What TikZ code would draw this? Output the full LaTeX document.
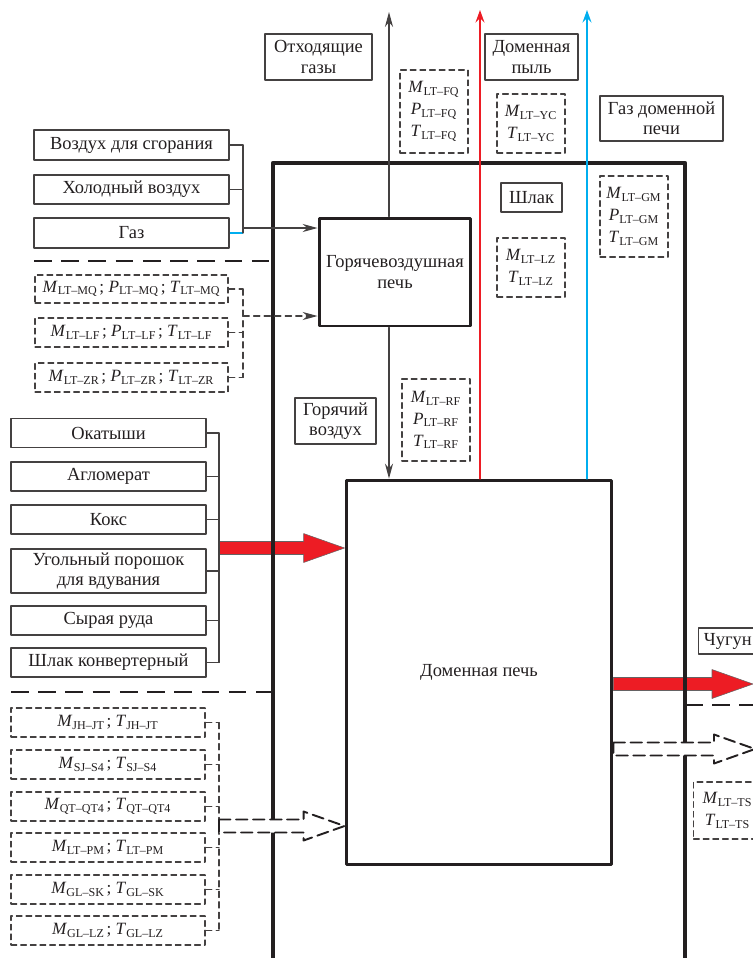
\documentclass[tikz,border=0pt]{standalone}
\usepackage{fontspec}
\setmainfont{Liberation Serif}
\usetikzlibrary{arrows.meta,calc}
\definecolor{furnred}{RGB}{237,28,36}
\definecolor{gasblue}{RGB}{0,174,239}
\definecolor{ink}{RGB}{35,31,32}
\newcommand{\pv}[2]{\textit{#1}\textsubscript{#2}}
\newcommand{\fatarrow}[3]{%
  \draw[#1] ($(#2)+(0,-6.5)$) -- ($(#3)+(-41,-6.5)$) -- ($(#3)+(-41,-14.5)$) -- (#3)
    -- ($(#3)+(-41,14.5)$) -- ($(#3)+(-41,6.5)$) -- ($(#2)+(0,6.5)$) -- cycle;}

\begin{document}
\begin{tikzpicture}[x=0.02cm,y=-0.02cm,line cap=round,line join=round,
  font=\fontsize{10.5}{11.5}\selectfont,text=ink,
  box/.style={draw=ink!85,line width=0.6pt,align=center,inner sep=0pt},
  pbox/.style={draw=ink!85,line width=0.6pt,dash pattern=on 3.3pt off 2.2pt,align=center,
    inner sep=0pt,font=\fontsize{9.8}{12.5}\selectfont},
  oven/.style={draw=ink,line width=1.7pt,align=center},
  wire/.style={draw=ink!85,line width=0.6pt},
  dwire/.style={wire,dash pattern=on 3.6pt off 2.4pt},
  arr/.style={-{Stealth[length=8.5pt,width=4.6pt]}},
  flow/.style={line width=1.4pt,-{Stealth[length=7pt,width=5pt]}},
  sep/.style={draw=ink,line width=1.1pt,dash pattern=on 10pt off 5.5pt,line cap=butt},
  wall/.style={draw=ink,line width=2.6pt,line cap=butt},
  solidarrow/.style={fill=furnred,draw=ink!70,line width=0.3pt},
  hollowarrow/.style={fill=white,draw=ink,line width=1.1pt,dash pattern=on 6.5pt off 3.2pt}]
  \useasboundingbox (0,0) rectangle (753,958);

  \node[box,minimum width=2.14cm,minimum height=0.92cm] (offgas) at (318.5,57) {Отходящие\\газы};
  \node[box,minimum width=1.86cm,minimum height=0.92cm] (dust) at (531.5,57) {Доменная\\пыль};
  \node[box,minimum width=2.46cm,minimum height=0.9cm] (bfgas) at (661.5,118.5) {Газ доменной\\печи};
  \node[pbox,minimum width=1.36cm,minimum height=1.66cm] (pFQ) at (434,111.5) {\pv{M}{LT–FQ}\\\pv{P}{LT–FQ}\\\pv{T}{LT–FQ}};
  \node[pbox,minimum width=1.36cm,minimum height=1.18cm] (pYC) at (531,123.5) {\pv{M}{LT–YC}\\\pv{T}{LT–YC}};
  \node[box,minimum width=1.22cm,minimum height=0.58cm] (slag) at (531.5,197.5) {Шлак};
  \node[pbox,minimum width=1.36cm,minimum height=1.18cm] (pLZ) at (531,267.5) {\pv{M}{LT–LZ}\\\pv{T}{LT–LZ}};
  \node[pbox,minimum width=1.36cm,minimum height=1.62cm] (pGM) at (634,216.5) {\pv{M}{LT–GM}\\\pv{P}{LT–GM}\\\pv{T}{LT–GM}};

  \node[box,minimum width=3.9cm,minimum height=0.6cm] (combair) at (131.5,145) {Воздух для сгорания};
  \node[box,minimum width=3.9cm,minimum height=0.58cm] (coldair) at (131.5,189.5) {Холодный воздух};
  \node[box,minimum width=3.9cm,minimum height=0.6cm] (gas) at (131.5,233) {Газ};
  \node[pbox,minimum width=3.86cm,minimum height=0.56cm] (pMQ) at (131.5,289) {\pv{M}{LT–MQ}\kern1pt; \pv{P}{LT–MQ}\kern1pt; \pv{T}{LT–MQ}};
  \node[pbox,minimum width=3.86cm,minimum height=0.58cm] (pLF) at (131.5,332.5) {\pv{M}{LT–LF}\kern1pt; \pv{P}{LT–LF}\kern1pt; \pv{T}{LT–LF}};
  \node[pbox,minimum width=3.86cm,minimum height=0.58cm] (pZR) at (131.5,377.5) {\pv{M}{LT–ZR}\kern1pt; \pv{P}{LT–ZR}\kern1pt; \pv{T}{LT–ZR}};

  \node[oven,minimum width=3.04cm,minimum height=2.16cm] (stove) at (395,272) {Горячевоздушная\\печь};
  \node[box,minimum width=1.62cm,minimum height=0.92cm] (hotair) at (335.5,421) {Горячий\\воздух};
  \node[pbox,minimum width=1.36cm,minimum height=1.64cm] (pRF) at (436,420) {\pv{M}{LT–RF}\\\pv{P}{LT–RF}\\\pv{T}{LT–RF}};
  \node[oven,minimum width=5.32cm,minimum height=7.7cm] (furnace) at (479,672.5) {Доменная печь};

  \node[box,minimum width=3.9cm,minimum height=0.58cm] (pellets) at (108.5,433) {Окатыши};
  \node[box,minimum width=3.9cm,minimum height=0.58cm] (sinter) at (108.5,476.5) {Агломерат};
  \node[box,minimum width=3.9cm,minimum height=0.58cm] (coke) at (108.5,519.5) {Кокс};
  \node[box,minimum width=3.9cm,minimum height=0.88cm] (coal) at (108.5,571) {Угольный порошок\\для вдувания};
  \node[box,minimum width=3.9cm,minimum height=0.58cm] (ore) at (108.5,620.5) {Сырая руда};
  \node[box,minimum width=3.9cm,minimum height=0.58cm] (cslag) at (108.5,662.5) {Шлак конвертерный};

  \node[pbox,minimum width=3.88cm,minimum height=0.58cm] (pJH) at (108,722.5) {\pv{M}{JH–JT}\kern1pt; \pv{T}{JH–JT}};
  \node[pbox,minimum width=3.88cm,minimum height=0.58cm] (pSJ) at (108,764.5) {\pv{M}{SJ–S4}\kern1pt; \pv{T}{SJ–S4}};
  \node[pbox,minimum width=3.88cm,minimum height=0.58cm] (pQT) at (108,806.5) {\pv{M}{QT–QT4}\kern1pt; \pv{T}{QT–QT4}};
  \node[pbox,minimum width=3.88cm,minimum height=0.58cm] (pPM) at (108,847.5) {\pv{M}{LT–PM}\kern1pt; \pv{T}{LT–PM}};
  \node[pbox,minimum width=3.88cm,minimum height=0.58cm] (pSK) at (108,889.5) {\pv{M}{GL–SK}\kern1pt; \pv{T}{GL–SK}};
  \node[pbox,minimum width=3.88cm,minimum height=0.58cm] (pGL) at (108,930.5) {\pv{M}{GL–LZ}\kern1pt; \pv{T}{GL–LZ}};

  \node[box,anchor=west,minimum height=0.52cm,text width=1.5cm,align=left,inner xsep=3pt] (iron) at (698,641) {Чугун};
  \node[pbox,anchor=west,minimum width=1.36cm,minimum height=1.14cm] (pTS) at (693,810.5) {\pv{M}{LT–TS}\\\pv{T}{LT–TS}};

  \coordinate (abus) at (243,228);
  \coordinate (pbus) at (243,316);
  \coordinate (cbus) at (219,548);
  \coordinate (ebus) at (219,826);
  \coordinate (hx) at (389,12);
  \coordinate (dustout) at (480,10);
  \coordinate (gasout) at (587,10);
  \coordinate (ironout) at (753,684);
  \coordinate (dataout) at (755,749);
  \coordinate (chargein) at (furnace.west |- cbus);
  \coordinate (datain) at (furnace.west |- ebus);
  \coordinate (ironfrom) at (furnace.east |- ironout);
  \coordinate (datafrom) at (furnace.east |- dataout);

  \fatarrow{solidarrow}{cbus}{chargein}
  \fatarrow{solidarrow}{ironfrom}{ironout}

  \draw[wall] (273,965) -- (273,163) -- (685,163) -- (685,965);
  \draw[sep] (34,261) -- (273,261);
  \draw[sep] (11,692) -- (273,692);
  \draw[sep] (685,705) -- (753,705);

  \draw[wire] (combair.east) -- (combair.east -| abus);
  \draw[wire] (coldair.east) -- (coldair.east -| abus);
  \draw[wire,draw=gasblue,line width=1.2pt,line cap=butt] (gas.east) -- (gas.east -| abus);
  \draw[wire] (combair.east -| abus) -- (gas.east -| abus);
  \draw[wire,arr] (abus) -- (abus -| stove.west);

  \foreach \n in {pMQ,pLF,pZR} \draw[dwire] (\n.east) -- (\n.east -| pbus);
  \draw[dwire] (pMQ.east -| pbus) -- (pZR.east -| pbus);
  \draw[dwire,arr] (pbus) -- (pbus -| stove.west);

  \foreach \n in {pellets,sinter,coke,coal,ore,cslag} \draw[wire] (\n.east) -- (\n.east -| cbus);
  \draw[wire] (pellets.east -| cbus) -- (cslag.east -| cbus);

  \foreach \n in {pJH,pSJ,pQT,pPM,pSK,pGL} \draw[dwire] (\n.east) -- (\n.east -| ebus);
  \draw[dwire] (pJH.east -| ebus) -- (pGL.east -| ebus);

  \draw[wire,arr] (stove.north -| hx) -- (hx);
  \draw[wire,arr] (stove.south -| hx) -- (furnace.north -| hx);
  \draw[flow,furnred] (furnace.north -| dustout) -- (dustout);
  \draw[flow,gasblue] (furnace.north -| gasout) -- (gasout);

  \fatarrow{hollowarrow}{ebus}{datain}
  \fatarrow{hollowarrow}{datafrom}{dataout}
\end{tikzpicture}
\end{document}
